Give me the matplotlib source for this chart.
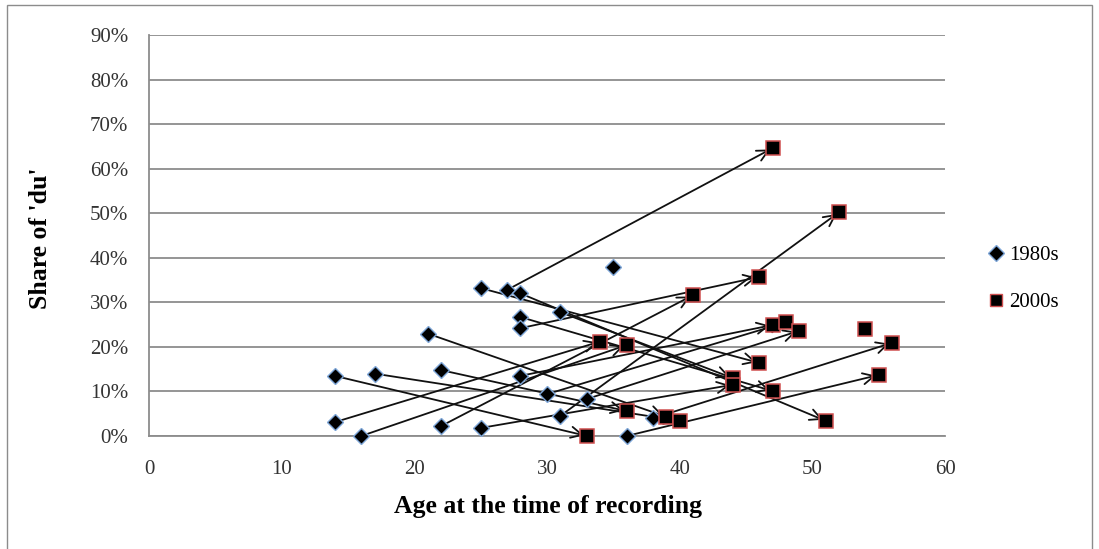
import matplotlib
matplotlib.use("Agg")
import matplotlib.pyplot as plt
from matplotlib.patches import Rectangle
from matplotlib.ticker import FuncFormatter
from matplotlib.lines import Line2D

# 1980s recordings (age, share of 'du' in %)
age_1980s = [14, 14, 16, 17, 21, 22, 22, 25, 25, 27, 28, 28, 28, 28, 30, 31, 31, 33, 35, 36, 38]
du_1980s = [13.5, 3.1, 0.0, 14.0, 23.0, 14.8, 2.2, 1.8, 33.2, 32.8, 32.0, 26.7, 24.2, 13.5, 9.4, 27.8, 4.5, 8.3, 38.0, 0.0, 4.0]

# 2000s recordings
age_2000s = [47, 52, 46, 41, 34, 36, 47, 48, 49, 54, 56, 46, 55, 44, 44, 47, 51, 36, 39, 40, 33]
du_2000s = [64.6, 50.2, 35.7, 31.6, 21.2, 20.4, 24.9, 25.5, 23.6, 24.1, 20.9, 16.4, 13.7, 13.0, 11.5, 10.1, 3.4, 5.6, 4.3, 3.4, 0.0]

# arrows: index into 1980s list -> index into 2000s list (same speaker)
arrow_from = [0, 1, 2, 3, 4, 5, 6, 7, 8, 9, 10, 11, 12, 13, 14, 15, 16, 17, 19, 20]
arrow_to   = [20, 4, 5, 19, 18, 17, 3, 14, 11, 0, 16, 15, 2, 6, 7, 13, 1, 8, 12, 10]

x_ticks = [0, 10, 20, 30, 40, 50, 60]
y_ticks = [0, 10, 20, 30, 40, 50, 60, 70, 80, 90]

W, H = 1099, 549
SERIF = "Liberation Serif"
fig = plt.figure(figsize=(W / 100, H / 100), dpi=100)
fig.patch.set_facecolor("white")

# outer chart border
fig.patches.append(Rectangle((7 / W, -0.05), (1092 - 7) / W, 1 - 5 / H + 0.05,
                             transform=fig.transFigure, fill=False,
                             edgecolor="#8c8c8c", lw=1.0))

L, R, T, B = 149, 945, 35, 436
ax = fig.add_axes([L / W, 1 - B / H, (R - L) / W, (B - T) / H])
ax.set_xlim(0, 60)
ax.set_ylim(0, 90)
ax.set_xticks(x_ticks)
ax.set_yticks(y_ticks)
ax.yaxis.set_major_formatter(FuncFormatter(lambda v, p: f"{int(v)}%"))
ax.grid(axis="y", color="#8c8c8c", lw=1.3)
ax.set_axisbelow(True)
for s in ["top", "right"]:
    ax.spines[s].set_visible(False)
for s in ["left", "bottom"]:
    ax.spines[s].set_color("#8c8c8c")
    ax.spines[s].set_linewidth(1.3)
ax.tick_params(length=0, labelsize=15, colors="#333333")
ax.tick_params(axis="x", pad=17)
ax.tick_params(axis="y", pad=15)
for lab in ax.get_xticklabels() + ax.get_yticklabels():
    lab.set_fontfamily(SERIF)

# arrows
for a, b in zip(arrow_from, arrow_to):
    ax.annotate("", xy=(age_2000s[b], du_2000s[b]), xytext=(age_1980s[a], du_1980s[a]),
                arrowprops=dict(arrowstyle="->,head_length=0.8,head_width=0.4",
                                color="#111111", lw=1.3, shrinkA=0, shrinkB=2),
                zorder=3)

ax.plot(age_1980s, du_1980s, linestyle="none", marker="D", markersize=8.6,
        markerfacecolor="black", markeredgecolor="#7ea6d8", markeredgewidth=1.0,
        zorder=4, clip_on=False)
ax.plot(age_2000s, du_2000s, linestyle="none", marker="s", markersize=9.8,
        markerfacecolor="black", markeredgecolor="#d05050", markeredgewidth=1.1,
        zorder=5, clip_on=False)

ax.set_xlabel("Age at the time of recording", fontfamily=SERIF,
              fontweight="bold", fontsize=18.5, va="center")
ax.xaxis.set_label_coords((548 - L) / (R - L), (B - 507) / (B - T))
ax.set_ylabel("Share of 'du'", fontfamily=SERIF,
              fontweight="bold", fontsize=18.5, va="center")
ax.yaxis.set_label_coords((40 - L) / (R - L), (B - 238) / (B - T))

# legend
handles = [Line2D([], [], linestyle="none", marker="D", markersize=8,
                  markerfacecolor="black", markeredgecolor="#7ea6d8"),
           Line2D([], [], linestyle="none", marker="s", markersize=9,
                  markerfacecolor="black", markeredgecolor="#d05050")]
fig.legend(handles, ["1980s", "2000s"], loc="center left",
           bbox_to_anchor=(989 / W, 1 - 279 / H), frameon=False,
           prop={"family": SERIF, "size": 15},
           handlelength=0.7, handletextpad=0.25, labelspacing=1.3,
           borderpad=0, borderaxespad=0)

fig.savefig("out.png", dpi=100, facecolor="white")
